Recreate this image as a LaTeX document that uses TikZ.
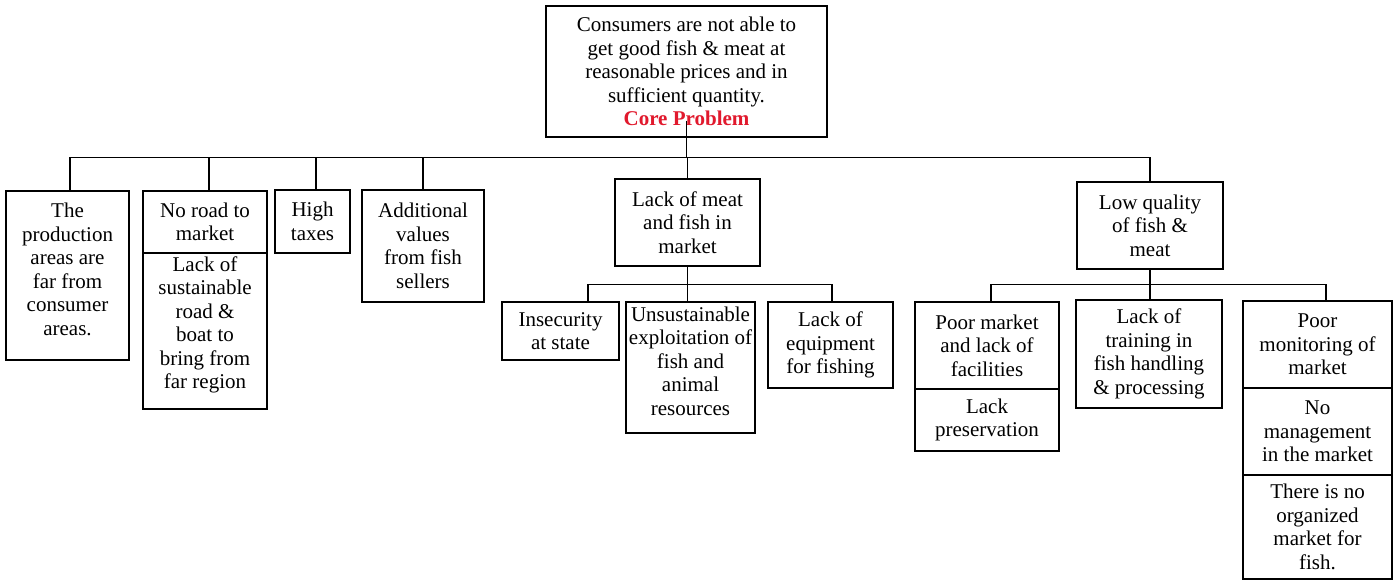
\documentclass[tikz,border=0pt]{standalone}
\usepackage{fontspec}
\setmainfont{Liberation Serif}
\newfontfamily\boxfont{Liberation Serif}
\usetikzlibrary{fit}
\definecolor{coreRed}{RGB}{225,25,45}
\begin{document}
\begin{tikzpicture}[x=1pt,y=-1pt,
  box/.style={draw=black, line width=1.2pt, inner sep=0pt, rectangle},
  txt/.style={align=center, inner sep=0pt, font=\boxfont\fontsize{21}{23.5}\selectfont},
  link/.style={draw=black, line width=1.2pt}]
\useasboundingbox[fill=white] (0,0) rectangle (1394,581);

% boxes
\node[box, fit={(546,6)(827,137)}] (core) {};
\node[box, fit={(6,191)(129,360)}] (prod) {};
\node[box, fit={(143,191)(267,253)}] (road) {};
\node[box, fit={(143,253)(267,409)}] (roadb) {};
\node[box, fit={(275,190)(350,253)}] (tax) {};
\node[box, fit={(362,190)(484,302)}] (addv) {};
\node[box, fit={(615,179)(760,266)}] (meat) {};
\node[box, fit={(502,302)(619,360)}] (insec) {};
\node[box, fit={(626,302)(755,433)}] (unsus) {};
\node[box, fit={(768,302)(893,388)}] (equip) {};
\node[box, fit={(1077,182)(1223,269)}] (lowq) {};
\node[box, fit={(915,302)(1059,389)}] (poorm) {};
\node[box, fit={(915,389)(1059,451)}] (pres) {};
\node[box, fit={(1076,300)(1222,408)}] (train) {};
\node[box, fit={(1243,301)(1392,388)}] (mon) {};
\node[box, fit={(1243,388)(1392,475)}] (mgmt) {};
\node[box, fit={(1243,475)(1392,579)}] (org) {};

% texts
\node[txt] (t-core) at (core.center) {Consumers are not able to\\get good fish \& meat at\\reasonable prices and in\\sufficient quantity.\\\textbf{\color{coreRed}Core Problem}};
\node[txt] (t-prod) at ([yshift=6pt]prod.center) {The\\production\\areas are\\far from\\consumer\\areas.};
\node[txt] (t-road) at (road.center) {No road to\\market};
\node[txt] (t-roadb) at ([yshift=6pt]roadb.center) {Lack of\\sustainable\\road \&\\boat to\\bring from\\far region};
\node[txt] (t-tax) at (tax.center) {High\\taxes};
\node[txt] (t-addv) at (addv.center) {Additional\\values\\from fish\\sellers};
\node[txt] (t-meat) at (meat.center) {Lack of meat\\and fish in\\market};
\node[txt] (t-insec) at (insec.center) {Insecurity\\at state};
\node[txt] (t-unsus) at ([yshift=6.5pt]unsus.center) {Unsustainable\\exploitation of\\fish and\\animal\\resources};
\node[txt] (t-equip) at (equip.center) {Lack of\\equipment\\for fishing};
\node[txt] (t-lowq) at (lowq.center) {Low quality\\of fish \&\\meat};
\node[txt] (t-poorm) at (poorm.center) {Poor market\\and lack of\\facilities};
\node[txt] (t-pres) at (pres.center) {Lack\\preservation};
\node[txt] (t-train) at (train.center) {Lack of\\training in\\fish handling\\\& processing};
\node[txt] (t-mon) at (mon.center) {Poor\\monitoring of\\market};
\node[txt] (t-mgmt) at (mgmt.center) {No\\management\\in the market};
\node[txt] (t-org) at (org.center) {There is no\\organized\\market for\\fish.};

% main bus under the core problem
\draw[link] ([yshift=17pt]core.south) -- ([yshift=-20pt]core.south) coordinate (hub);
\draw[link] ([xshift=2.5pt]prod.north) |- (hub);
\draw[link] ([xshift=4pt]road.north) |- (hub);
\draw[link] ([xshift=3.5pt]tax.north) |- (hub);
\draw[link] (addv.north) |- (hub);
\draw[link] (meat.north) |- (hub);
\draw[link] (lowq.north) |- (hub);

% bus under "Lack of meat and fish in market"
\draw[link] (meat.south) -- ([yshift=-18pt]meat.south) coordinate (mhub);
\draw[link] ([xshift=27.5pt]insec.north) |- (mhub);
\draw[link] ([xshift=-3pt]unsus.north) |- (mhub);
\draw[link] ([xshift=1.5pt]equip.north) |- (mhub);

% bus under "Low quality of fish & meat"
\draw[link] (lowq.south) -- ([yshift=-15pt]lowq.south) coordinate (qhub);
\draw[link] ([xshift=4pt]poorm.north) |- (qhub);
\draw[link] ([xshift=1pt]train.north) |- (qhub);
\draw[link] ([xshift=8.5pt]mon.north) |- (qhub);
\end{tikzpicture}
\end{document}
